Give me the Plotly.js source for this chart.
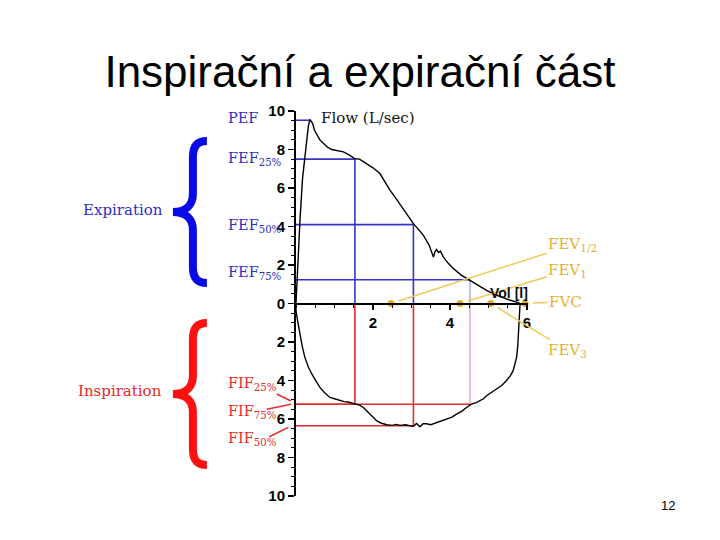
<!DOCTYPE html>
<html><head><meta charset="utf-8">
<script src="https://cdn.plot.ly/plotly-3.0.1.min.js"></script>
<style>html,body{margin:0;padding:0;background:#fff}#chart{width:720px;height:540px}</style>
</head><body><div id="chart"></div>
<script>
// ---- data ----
const expVol = [0,0.03,0.1,0.17,0.26,0.32,0.36,0.43,0.48,0.54,0.62,0.71,0.82,0.93,1.05,1.23,1.38,1.53,1.65,1.84,2.0,2.18,2.3,2.44,2.6,2.75,2.9,3.05,3.18,3.31,3.46,3.52,3.57,3.61,3.65,3.7,3.75,3.83,3.95,4.09,4.3,4.52,4.75,4.95,5.15,5.38,5.55,5.73,5.82];
const expFlow = [0,1.5,4.2,6.5,8.2,9.2,9.57,9.36,9.0,8.75,8.5,8.32,8.12,8.0,7.95,7.88,7.72,7.52,7.5,7.27,7.05,6.75,6.35,5.89,5.45,5.02,4.6,4.15,3.85,3.54,3.02,2.7,2.41,2.7,2.81,2.65,2.72,2.41,2.1,1.81,1.46,1.2,0.92,0.68,0.48,0.3,0.18,0.07,0];
const inspVol = [0,0.0,0.05,0.1,0.16,0.23,0.32,0.41,0.52,0.62,0.75,0.88,1.0,1.14,1.25,1.35,1.45,1.53,1.65,1.75,1.85,1.92,2.0,2.1,2.22,2.36,2.5,2.6,2.7,2.85,2.95,3.05,3.13,3.22,3.3,3.39,3.5,3.65,3.78,3.91,4.05,4.17,4.3,4.43,4.56,4.68,4.78,4.87,4.95,5.08,5.21,5.35,5.47,5.57,5.64,5.7,5.73,5.76,5.78,5.8,5.82,5.82];
const inspFlow = [0,0.36,1.0,1.58,2.2,2.8,3.3,3.66,4.05,4.36,4.65,4.88,4.95,5.05,5.1,5.12,5.18,5.23,5.28,5.4,5.6,5.75,5.92,6.1,6.22,6.3,6.33,6.28,6.33,6.3,6.35,6.38,6.23,6.4,6.25,6.25,6.3,6.18,6.1,6.0,5.9,5.75,5.6,5.4,5.23,5.15,5.05,4.95,4.79,4.62,4.44,4.25,4.0,3.75,3.49,3.1,2.8,2.2,1.58,0.9,0.19,0];
const fefNames = ['PEF','FEF<sub>25%</sub>','FEF<sub>50%</sub>','FEF<sub>75%</sub>'];
const fefVol = [0.36,1.53,3.05,4.52];
const fefFlow = [9.52,7.5,4.1,1.23];
const fifNames = ['FIF<sub>25%</sub>','FIF<sub>75%</sub>','FIF<sub>50%</sub>'];
const fifVol = [1.53,4.52,3.05];
const fifFlow = [5.23,5.23,6.35];
const fevNames = ['FEV<sub>1/2</sub>','FEV<sub>1</sub>','FEV<sub>3</sub>','FVC'];
const fevVol = [2.47,4.26,5.06,5.95];
const yTickVals = [10,8,6,4,2,0,-2,-4,-6,-8,-10];
const xTickVals = [2,4,6];

// ---- layout constants ----
const serif = 'DejaVu Serif';
const sans = 'Liberation Sans, Arial, sans-serif';
const BLUE = '#3434c8', BLUE_TXT = '#2d2dc8', LAV = '#b4a8e6';
const RED = '#e42a2a', PINK = '#f2a6b4';
const GOLD = '#e6b12e', GOLD_LINE = '#f0c75a';
const fefLabelY = [9.62, 7.5, 4.05, 1.6];
const fifLabelY = [-4.17, -5.62, -7.02];
const fevLabelPos = [[7.19,3.05],[7.06,1.72],[7.06,-2.45],[7.0,0.1]];
const leftLabelX = -0.3017;

// ---- traces ----
function seg(list){const x=[],y=[];list.forEach(s=>{x.push(s[0],s[2],null);y.push(s[1],s[3],null);});return {x,y};}
const blueSegs = [], lavSegs = [], redSegs = [], pinkSegs = [];
fefVol.forEach((v,i)=>{
  blueSegs.push([0,fefFlow[i],v,fefFlow[i]]);
  if(i===1||i===2) blueSegs.push([v,fefFlow[i],v,0]);
  if(i===3) lavSegs.push([v,fefFlow[i],v,0]);
});
fifVol.forEach((v,i)=>{
  redSegs.push([0,-fifFlow[i],v,-fifFlow[i]]);
  if(i===1) pinkSegs.push([v,0,v,-fifFlow[i]]);
  else redSegs.push([v,0,v,-fifFlow[i]]);
});
const mk = (s,color,w)=>Object.assign({type:'scatter',mode:'lines',line:{color:color,width:w},hoverinfo:'skip'},seg(s));
const traces = [
  mk(lavSegs,LAV,1.5), mk(pinkSegs,PINK,1.5), mk(blueSegs,BLUE,1.6), mk(redSegs,RED,1.6),
  {type:'scatter',mode:'lines',x:expVol,y:expFlow,line:{color:'#000',width:1.4},hoverinfo:'skip'},
  {type:'scatter',mode:'lines',x:inspVol,y:inspFlow.map(v=>-v),line:{color:'#000',width:1.4},hoverinfo:'skip'},
  {type:'scatter',mode:'markers',x:fevVol,y:fevVol.map(()=>0),marker:{color:'#e8b020',size:7},hoverinfo:'skip',cliponaxis:false}
];

// ---- annotations ----
const ann = [];
fefNames.forEach((t,i)=>ann.push({text:t,xref:'paper',yref:'y',x:leftLabelX,y:fefLabelY[i],xanchor:'left',yanchor:'middle',showarrow:false,font:{family:serif,size:14.5,color:BLUE_TXT}}));
fifNames.forEach((t,i)=>ann.push({text:t,xref:'paper',yref:'y',x:leftLabelX,y:fifLabelY[i],xanchor:'left',yanchor:'middle',showarrow:false,font:{family:serif,size:14.5,color:RED}}));
fevNames.forEach((t,i)=>ann.push({text:t,xref:'x',yref:'y',x:fevVol[i],y:0,axref:'x',ayref:'y',ax:fevLabelPos[i][0],ay:fevLabelPos[i][1],showarrow:true,arrowhead:0,arrowwidth:1.5,arrowcolor:GOLD_LINE,standoff:8,font:{family:serif,size:15,color:GOLD}}));
ann.push({text:'Flow (L/sec)',xref:'x',yref:'y',x:1.87,y:9.66,xanchor:'center',showarrow:false,font:{family:serif,size:15,color:'#111'}});
ann.push({text:'Vol [l]',xref:'x',yref:'y',x:5.53,y:0.55,xanchor:'center',showarrow:false,font:{family:sans,size:14,color:'#111',weight:'bold'}});
ann.push({text:'Expiration',xref:'paper',yref:'paper',x:-0.7457,y:0.7429,xanchor:'center',yanchor:'middle',showarrow:false,font:{family:serif,size:15,color:BLUE_TXT}});
ann.push({text:'Inspiration',xref:'paper',yref:'paper',x:-0.7586,y:0.2727,xanchor:'center',yanchor:'middle',showarrow:false,font:{family:serif,size:15,color:RED}});
ann.push({text:'12',xref:'paper',yref:'paper',x:1.603,y:-0.0234,xanchor:'center',yanchor:'middle',showarrow:false,font:{family:sans,size:13,color:'#000'}});

// ---- decorative shapes (braces, leader lines) ----
const brace = 'M14,-71 C4,-71 0,-65 0,-55 L0,-18 C0,-6 -8,0 -20,0 C-8,0 0,6 0,18 L0,55 C0,65 4,71 14,71';
const shapes = [
  {type:'path',xref:'paper',yref:'paper',xsizemode:'pixel',ysizemode:'pixel',xanchor:-0.4444,yanchor:0.7377,path:brace,line:{color:'#0a0ae6',width:8}},
  {type:'path',xref:'paper',yref:'paper',xsizemode:'pixel',ysizemode:'pixel',xanchor:-0.4444,yanchor:0.2649,path:brace,line:{color:'#ff1010',width:8}},
  {type:'line',xref:'paper',yref:'paper',x0:-0.0832,y0:0.2649,x1:-0.0216,y1:0.2468,line:{color:RED,width:1.5}},
  {type:'line',xref:'paper',yref:'paper',x0:-0.1263,y0:0.2252,x1:-0.0216,y1:0.2382,line:{color:RED,width:1.5}},
  {type:'line',xref:'paper',yref:'paper',x0:-0.1151,y0:0.1540,x1:-0.0332,y1:0.1784,line:{color:RED,width:1.5}}
];

const layout = {
  width:720,height:540,
  margin:{l:296,r:192,t:111,b:44},
  paper_bgcolor:'#fff',plot_bgcolor:'#fff',
  showlegend:false,hovermode:false,
  title:{text:'Inspirační a expirační část',xref:'container',x:0.5,xanchor:'center',y:0.868,yanchor:'middle',font:{family:sans,size:44,color:'#000'}},
  xaxis:{range:[0,6.026],anchor:'free',position:0.5,showline:true,linecolor:'#000',linewidth:2,showgrid:false,zeroline:false,
    tickmode:'array',tickvals:xTickVals,ticktext:xTickVals.map(String),ticks:'outside',ticklen:5,tickwidth:1.5,tickcolor:'#000',
    tickfont:{family:sans,size:15,color:'#000',weight:'bold'},minor:{dtick:0.5,ticks:'outside',ticklen:3,tickcolor:'#000',tickwidth:1}},
  yaxis:{range:[-10,10],showline:true,linecolor:'#000',linewidth:2,showgrid:false,zeroline:false,
    tickmode:'array',tickvals:yTickVals,ticktext:yTickVals.map(v=>String(Math.abs(v))),ticks:'outside',ticklen:6,tickwidth:1.5,tickcolor:'#000',
    tickfont:{family:sans,size:15,color:'#000',weight:'bold'},minor:{dtick:0.5,ticks:'outside',ticklen:3,tickcolor:'#000',tickwidth:1}},
  annotations:ann,shapes:shapes
};
Plotly.newPlot('chart',traces,layout,{staticPlot:true,displayModeBar:false});
</script></body></html>
